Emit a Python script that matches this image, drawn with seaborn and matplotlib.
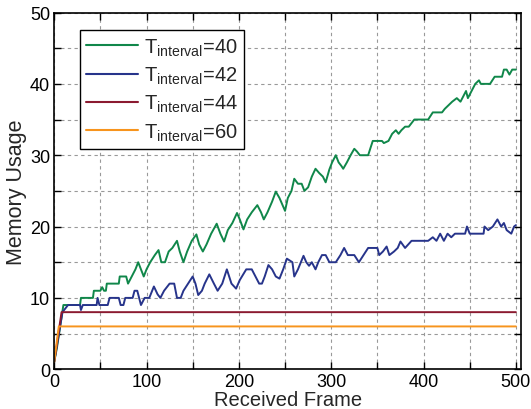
import matplotlib
matplotlib.use('Agg')
import matplotlib.pyplot as plt
import seaborn as sns
import pandas as pd

# datos
x_t40 = [0, 3, 10, 28, 29, 42, 43, 50, 52, 54, 56, 57, 70, 71, 78, 80, 84, 88, 91, 94, 97,
         100, 104, 109, 113, 116, 120, 124, 128, 133, 136, 140, 144, 149, 154, 157, 161,
         165, 170, 176, 180, 184, 188, 193, 198, 201, 205, 209, 214, 220, 224, 227, 231,
         236, 240, 244, 250, 253, 257, 260, 264, 268, 271, 275, 279, 283, 287, 291, 294,
         298, 301, 305, 308, 311, 313, 317, 321, 325, 328, 331, 340, 345, 355, 357, 362,
         366, 370, 373, 376, 380, 384, 390, 405, 410, 420, 423, 427, 431, 436, 440, 444,
         446, 448, 452, 456, 460, 462, 467, 472, 477, 485, 487, 490, 493, 496, 500]
y_t40 = [1, 3, 9, 9, 10, 10, 11, 11, 11.5, 11, 11, 12, 12, 13, 13, 12, 13, 14, 15, 14, 13,
         14, 15, 16, 16.7, 15, 15, 16.5, 17, 18, 16.5, 15, 16.5, 18, 18.9, 17.5, 16.5,
         17.5, 19, 20.4, 19, 17.9, 19.5, 20.5, 21.9, 21, 19.6, 21, 22, 23, 22, 21, 22,
         23.5, 24.9, 24, 22.2, 24, 25, 26.7, 26, 26, 25, 25.5, 27, 28.1, 27.5, 27, 26.2,
         28, 29, 30, 29, 28.5, 28.1, 29, 30, 30.9, 30.5, 30, 30, 32, 32, 31.7, 32,
         33, 33.5, 33, 33.5, 34, 34, 35, 35, 36, 36, 36.5, 37, 37.5, 38, 37.5, 38.5,
         39, 38, 39, 40, 40.5, 40, 40, 40, 41, 41, 42, 42, 41.3, 42, 42]

x_t42 = [0, 9, 15, 28, 29, 31, 46, 47, 49, 58, 60, 70, 72, 75, 77, 85, 87, 90, 94, 98, 103,
         108, 112, 115, 119, 125, 130, 133, 137, 140, 145, 150, 153, 156, 160, 163, 168,
         173, 177, 182, 187, 192, 197, 201, 208, 214, 218, 222, 225, 228, 232, 236, 240,
         244, 248, 252, 258, 260, 264, 270, 273, 276, 279, 283, 286, 290, 294, 298, 305,
         310, 314, 318, 325, 330, 335, 340, 350, 352, 356, 360, 363, 368, 372, 375, 380,
         387, 405, 410, 414, 418, 422, 426, 430, 434, 440, 445, 447, 450, 465, 466, 470,
         475, 480, 484, 487, 490, 495, 498, 500]
y_t42 = [1, 8, 9, 9, 8.3, 9, 9, 10, 9, 9, 10, 10, 9, 9, 10, 10, 11, 11, 9, 10, 10,
         11.6, 10.5, 10, 11, 12, 12, 10, 10, 11, 12, 13, 12, 10.4, 11, 12, 13.3,
         12, 11, 12, 14, 12, 11.3, 12.5, 14, 14, 13, 12, 12, 13, 14.6, 14, 13,
         12.7, 14, 15.5, 15, 13, 14, 15.9, 15, 14.5, 15, 14, 15, 16, 16, 15, 15,
         16, 17, 16, 16, 15, 16, 17, 17, 16, 16.5, 17.2, 16, 16.5, 17, 17.9, 17,
         18, 18, 18.5, 18, 19, 18, 19, 18.5, 19, 19, 19, 20, 19, 19, 20, 19.5,
         20, 21, 20, 20.5, 19.5, 19, 20, 20.2]

x_t44 = [0, 8, 500]
y_t44 = [1, 8, 8]

x_t60 = [0, 5, 500]
y_t60 = [1, 6, 6]

etiquetas = [r'T$_{\mathrm{interval}}$=40', r'T$_{\mathrm{interval}}$=42',
             r'T$_{\mathrm{interval}}$=44', r'T$_{\mathrm{interval}}$=60']
colores = ['#10874a', '#27348b', '#8b1a30', '#f7941d']

series = [(x_t40, y_t40), (x_t42, y_t42), (x_t44, y_t44), (x_t60, y_t60)]
frames = []
for (xs, ys), lab in zip(series, etiquetas):
    frames.append(pd.DataFrame({'frame': xs, 'memoria': ys, 'serie': lab}))
df = pd.concat(frames, ignore_index=True)

sns.set_style('ticks')
plt.rcParams['font.family'] = ['Liberation Sans', 'DejaVu Sans']
plt.rcParams['mathtext.fontset'] = 'custom'
plt.rcParams['mathtext.rm'] = 'Liberation Sans'

fig = plt.figure(figsize=(5.31, 4.10), dpi=100)
ax = fig.add_axes([0.102, 0.097, 0.880, 0.870])

sns.lineplot(data=df, x='frame', y='memoria', hue='serie', palette=colores,
             hue_order=etiquetas, sort=False, estimator=None, linewidth=1.4, ax=ax)

ax.set_xlim(0, 506)
ax.set_ylim(0, 50)
ax.set_xticks([0, 100, 200, 300, 400, 500])
ax.set_xticks([50, 150, 250, 350, 450], minor=True)
ax.set_yticks([0, 10, 20, 30, 40, 50])
ax.set_yticks([5, 15, 25, 35, 45], minor=True)
ax.grid(True, which='both', linestyle=(0, (3, 3)), color='#999999', linewidth=0.8)
ax.tick_params(which='both', direction='in', top=True, right=True, length=5,
               width=1, labelsize=13, colors='black', pad=3)
for s in ax.spines.values():
    s.set_linewidth(1.2)
    s.set_color('black')

ax.set_xlabel('Received Frame', fontsize=14.5, labelpad=0)
ax.set_ylabel('Memory Usage', fontsize=15.5, labelpad=2)

leg = ax.legend(loc='upper left', bbox_to_anchor=(0.055, 0.95), fontsize=14.5,
                frameon=True, fancybox=False, edgecolor='black', handlelength=2.6,
                borderpad=0.3, labelspacing=0.35, handletextpad=0.3, borderaxespad=0)
leg.get_frame().set_linewidth(1.0)
leg.get_frame().set_alpha(1)
for linea in leg.get_lines():
    linea.set_linewidth(1.5)

fig.savefig('out.png', dpi=100)
